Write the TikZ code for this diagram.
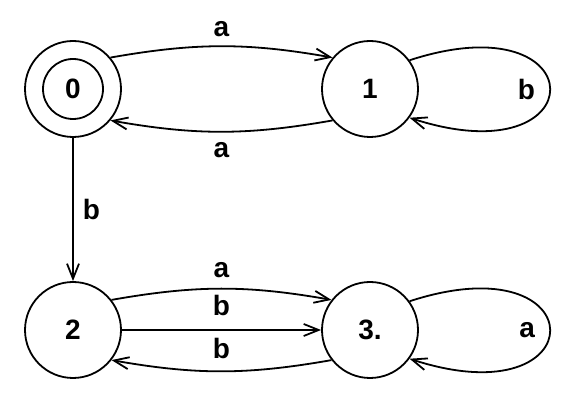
\documentclass[tikz,border=0pt]{standalone}
\usepackage{fontspec}
\setmainfont{Liberation Sans}
\usetikzlibrary{arrows.meta}

\begin{document}
\begin{tikzpicture}[x=1pt,y=1pt,line width=1.8pt,
  state/.style={draw,circle,minimum size=96pt,inner sep=0pt,font=\fontsize{28}{30}\selectfont\bfseries},
  trans/.style={-{Straight Barb[length=15pt,width=12pt]}},
  lab/.style={font=\fontsize{28}{30}\selectfont\bfseries,inner sep=2pt}]
\useasboundingbox (0,0) rectangle (586,409);
\node[state] (q0) at (73,320) {0};
\draw (q0) circle (30pt);
\node[state] (q1) at (370,320) {1};
\node[state] (q2) at (73,79) {2};
\node[state] (q3) at (370,79) {3.};

\draw[trans] (q0.40) to[bend left=10] node[lab,above=7pt] {a} (q1.140);
\draw[trans] (q1.220) to[bend left=10] node[lab,below=8pt] {a} (q0.320);
\draw[trans] (q1.36) .. controls +(187,61) and +(187,-61) .. node[lab,left=12pt] {b} (q1.-36);
\draw[trans] (q0) -- node[lab,right=7pt] {b} (q2);
\draw[trans] (q2.38) to[bend left=10] node[lab,above=8pt] {a} (q3.142);
\draw[trans] (q2) -- node[lab,above=11pt] {b} (q3);
\draw[trans] (q3.218) to[bend left=10] node[lab,above=10pt] {b} (q2.322);
\draw[trans] (q3.36) .. controls +(187,61) and +(187,-61) .. node[lab,left=12pt] {a} (q3.-36);
\end{tikzpicture}
\end{document}
